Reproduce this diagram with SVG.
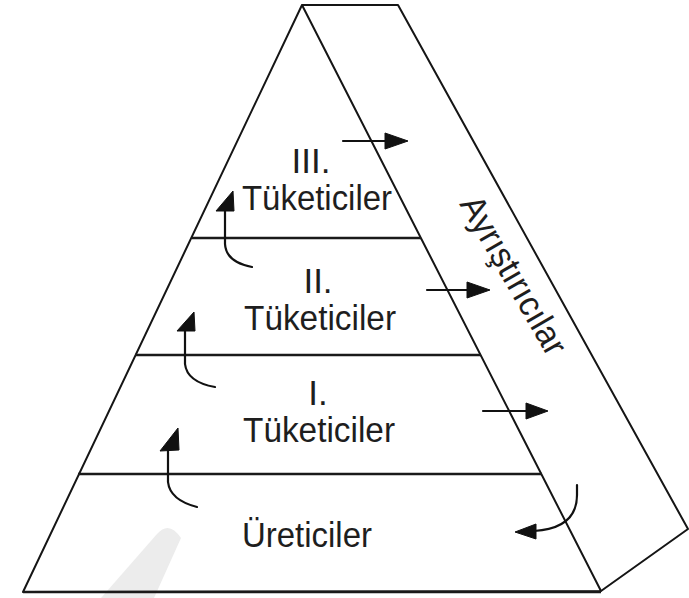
<svg xmlns="http://www.w3.org/2000/svg" width="689" height="598" viewBox="0 0 689 598">
<style>
.edge{fill:none;stroke:#151515;stroke-width:2;stroke-linejoin:round}
.band{fill:none;stroke:#1a1a1a;stroke-width:2.6}
.lbl{font-family:"Liberation Sans",Arial,sans-serif;font-size:35px;fill:#1e1e1e;text-anchor:middle}
.conn{fill:none;stroke:#111;stroke-width:2.2;stroke-linecap:round}
.head{fill:#111;stroke:#111;stroke-width:1;stroke-linejoin:round}
</style>
<rect width="689" height="598" fill="#ffffff"/>
<path d="M157,534 Q169,520 181,538 L154,598 L101,598 Z" fill="#ececec"/>
<g id="pyramid">
<path class="edge" d="M302,5 L23,592 L601,591 Z"/>
<path class="edge" d="M302,5 L398,5 L688,529 L601,591"/>
</g>
<g id="bands">
<line class="band" x1="192" y1="238" x2="421" y2="238"/>
<line class="band" x1="135" y1="355" x2="481" y2="355"/>
<line class="band" x1="78" y1="474" x2="542" y2="474"/>
<line class="band" x1="23" y1="592" x2="601" y2="592"/>
</g>
<g id="consumer3">
<text class="lbl" x="311" y="173">III.</text>
<text class="lbl" x="317" y="210" textLength="150" lengthAdjust="spacingAndGlyphs">Tüketiciler</text>
</g>
<g id="consumer2">
<text class="lbl" x="318" y="293">II.</text>
<text class="lbl" x="320" y="330" textLength="152" lengthAdjust="spacingAndGlyphs">Tüketiciler</text>
</g>
<g id="consumer1">
<text class="lbl" x="318" y="405">I.</text>
<text class="lbl" x="319" y="442" textLength="152" lengthAdjust="spacingAndGlyphs">Tüketiciler</text>
</g>
<g id="producers">
<text class="lbl" x="307" y="547" textLength="130" lengthAdjust="spacingAndGlyphs">Üreticiler</text>
</g>
<g id="decomposers">
<text class="lbl" transform="translate(514,275) rotate(60)" x="0" y="12" textLength="178" lengthAdjust="spacingAndGlyphs">Ayrıştırıcılar</text>
</g>
<g id="connectors">
<line class="conn" x1="343" y1="141" x2="390" y2="141"/>
<polygon class="head" points="385,133 408,141 385,149"/>
<line class="conn" x1="427" y1="290" x2="470" y2="290"/>
<polygon class="head" points="467,282 490,290 467,298"/>
<line class="conn" x1="483" y1="411" x2="530" y2="411"/>
<polygon class="head" points="526,403 548,411 526,419"/>
<path class="conn" d="M577,485 L577,495 C577,515 566,529 534,531"/>
<polygon class="head" points="536,524 515,532 536,539"/>
<path class="conn" d="M225,209 L225,244 Q226,262 252,267"/>
<polygon class="head" points="233,191 216,211 234,211"/>
<path class="conn" d="M185,329 L185,364 Q187,382 215,387"/>
<polygon class="head" points="194,312 177,331 195,331"/>
<path class="conn" d="M168,449 L168,482 Q170,500 197,507"/>
<polygon class="head" points="178,428 160,451 179,450"/>
</g>
</svg>
